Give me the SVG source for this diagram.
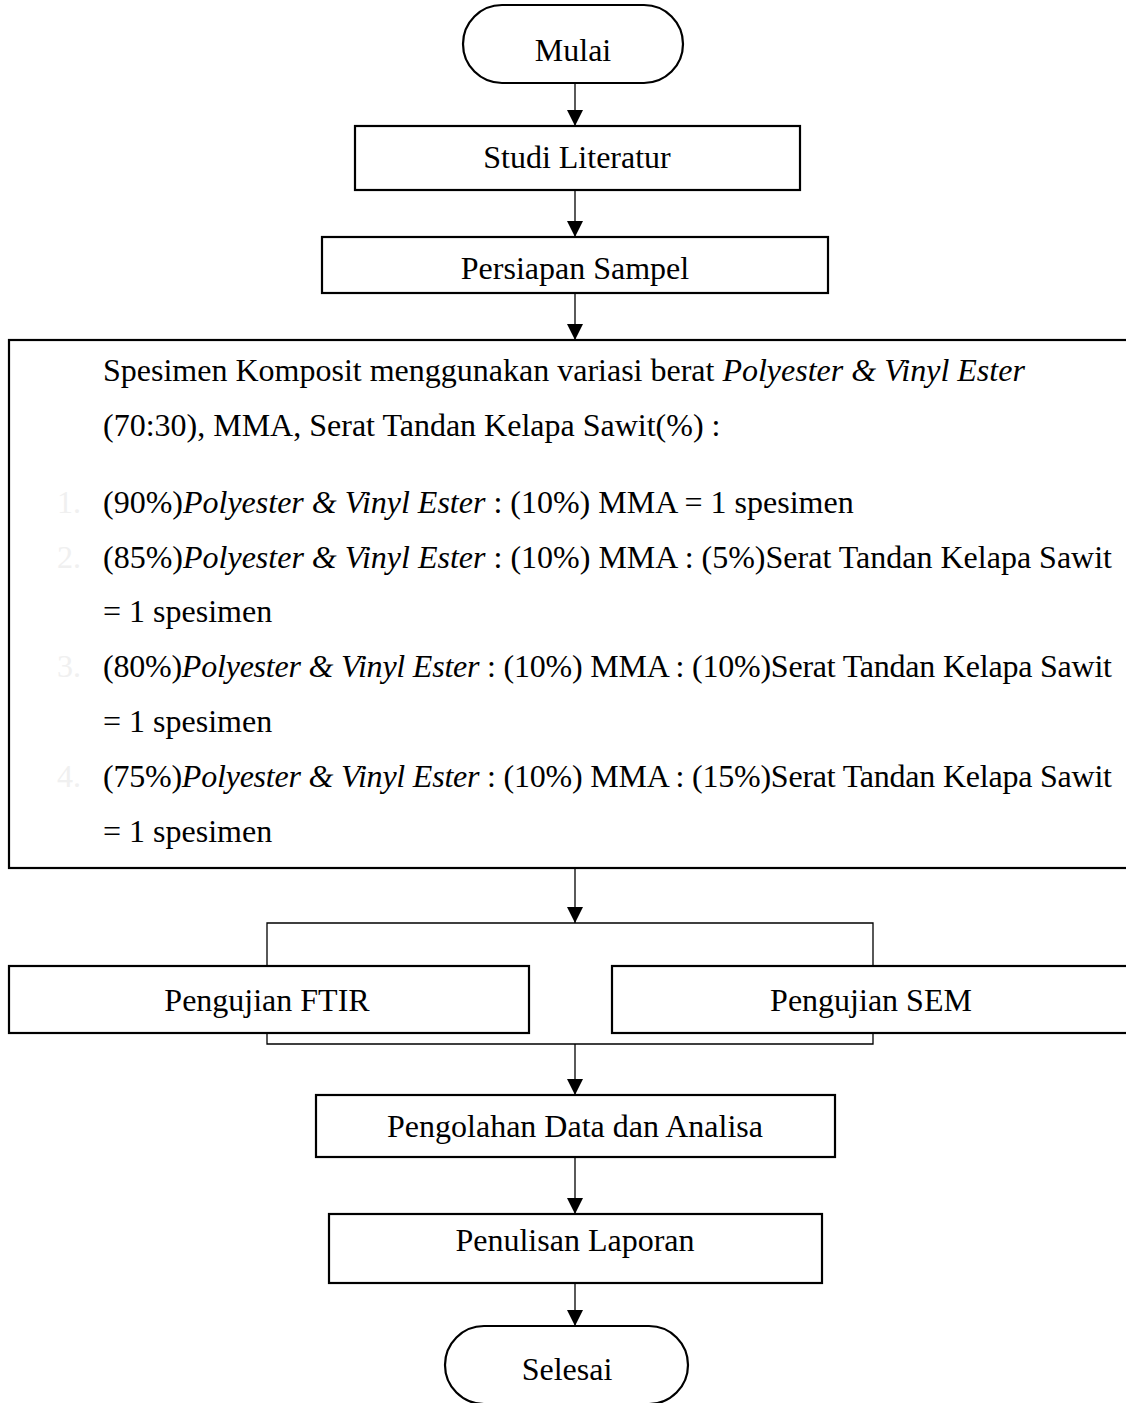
<svg xmlns="http://www.w3.org/2000/svg" width="1126" height="1403" viewBox="0 0 1126 1403">
  <style>
    text { font-family: "Liberation Serif", "Times New Roman", serif; font-size: 32px; fill: #000; }
    .c { text-anchor: middle; }
    .i { font-style: italic; }
    .num { fill: #f0f0f0; }
    .box { fill: #fff; stroke: #000; stroke-width: 2.2; }
    .ln { fill: none; stroke: #000; stroke-width: 1.3; }
  </style>
  <defs>
    <marker id="arrow" markerWidth="16" markerHeight="16" refX="16" refY="8" orient="auto" markerUnits="userSpaceOnUse">
      <path d="M0,0 L16,8 L0,16 Z" fill="#000"/>
    </marker>
  </defs>

  <rect width="1126" height="1403" fill="#fff"/>

  <!-- connectors -->
  <g id="connectors">
    <line class="ln" x1="575" y1="83" x2="575" y2="126" marker-end="url(#arrow)"/>
    <line class="ln" x1="575" y1="190" x2="575" y2="237" marker-end="url(#arrow)"/>
    <line class="ln" x1="575" y1="293" x2="575" y2="340" marker-end="url(#arrow)"/>
    <line class="ln" x1="575" y1="868" x2="575" y2="923" marker-end="url(#arrow)"/>
    <polyline class="ln" points="267,966 267,923 873,923 873,966"/>
    <polyline class="ln" points="267,1033 267,1044 873,1044 873,1033"/>
    <line class="ln" x1="575" y1="1044" x2="575" y2="1095" marker-end="url(#arrow)"/>
    <line class="ln" x1="575" y1="1157" x2="575" y2="1214" marker-end="url(#arrow)"/>
    <line class="ln" x1="575" y1="1283" x2="575" y2="1326" marker-end="url(#arrow)"/>
  </g>

  <!-- start -->
  <g id="mulai">
    <rect class="box" x="463" y="5" width="220" height="78" rx="39" ry="39"/>
    <text class="c" x="573" y="61">Mulai</text>
  </g>

  <g id="studi-literatur">
    <rect class="box" x="355" y="126" width="445" height="64"/>
    <text class="c" x="577" y="168">Studi Literatur</text>
  </g>

  <g id="persiapan-sampel">
    <rect class="box" x="322" y="237" width="506" height="56"/>
    <text class="c" x="575" y="279">Persiapan Sampel</text>
  </g>

  <!-- specimen composition list -->
  <g id="spesimen">
    <rect class="box" x="9" y="340" width="1130" height="528"/>
    <text x="103" y="381">Spesimen Komposit menggunakan variasi berat <tspan class="i">Polyester &amp; Vinyl Ester</tspan></text>
    <text x="103" y="436">(70:30), MMA, Serat Tandan Kelapa Sawit(%) :</text>

    <text class="num" x="57" y="513">1.</text>
    <text x="103" y="513">(90%)<tspan class="i">Polyester &amp; Vinyl Ester</tspan> : (10%) MMA = 1 spesimen</text>

    <text class="num" x="57" y="568">2.</text>
    <text x="103" y="568" textLength="1009" lengthAdjust="spacing">(85%)<tspan class="i">Polyester &amp; Vinyl Ester</tspan> : (10%) MMA : (5%)Serat Tandan Kelapa Sawit</text>
    <text x="103" y="622">= 1 spesimen</text>

    <text class="num" x="57" y="677">3.</text>
    <text x="103" y="677" textLength="1009" lengthAdjust="spacing">(80%)<tspan class="i">Polyester &amp; Vinyl Ester</tspan> : (10%) MMA : (10%)Serat Tandan Kelapa Sawit</text>
    <text x="103" y="732">= 1 spesimen</text>

    <text class="num" x="57" y="787">4.</text>
    <text x="103" y="787" textLength="1009" lengthAdjust="spacing">(75%)<tspan class="i">Polyester &amp; Vinyl Ester</tspan> : (10%) MMA : (15%)Serat Tandan Kelapa Sawit</text>
    <text x="103" y="842">= 1 spesimen</text>
  </g>

  <g id="ftir">
    <rect class="box" x="9" y="966" width="520" height="67"/>
    <text class="c" x="267" y="1011">Pengujian FTIR</text>
  </g>

  <g id="sem">
    <rect class="box" x="612" y="966" width="530" height="67"/>
    <text class="c" x="871" y="1011">Pengujian SEM</text>
  </g>

  <g id="pengolahan">
    <rect class="box" x="316" y="1095" width="519" height="62"/>
    <text class="c" x="575" y="1137">Pengolahan Data dan Analisa</text>
  </g>

  <g id="penulisan">
    <rect class="box" x="329" y="1214" width="493" height="69"/>
    <text class="c" x="575" y="1251">Penulisan Laporan</text>
  </g>

  <!-- end -->
  <g id="selesai">
    <rect class="box" x="445" y="1326" width="243" height="78" rx="39" ry="39"/>
    <text class="c" x="567" y="1380">Selesai</text>
  </g>
</svg>
